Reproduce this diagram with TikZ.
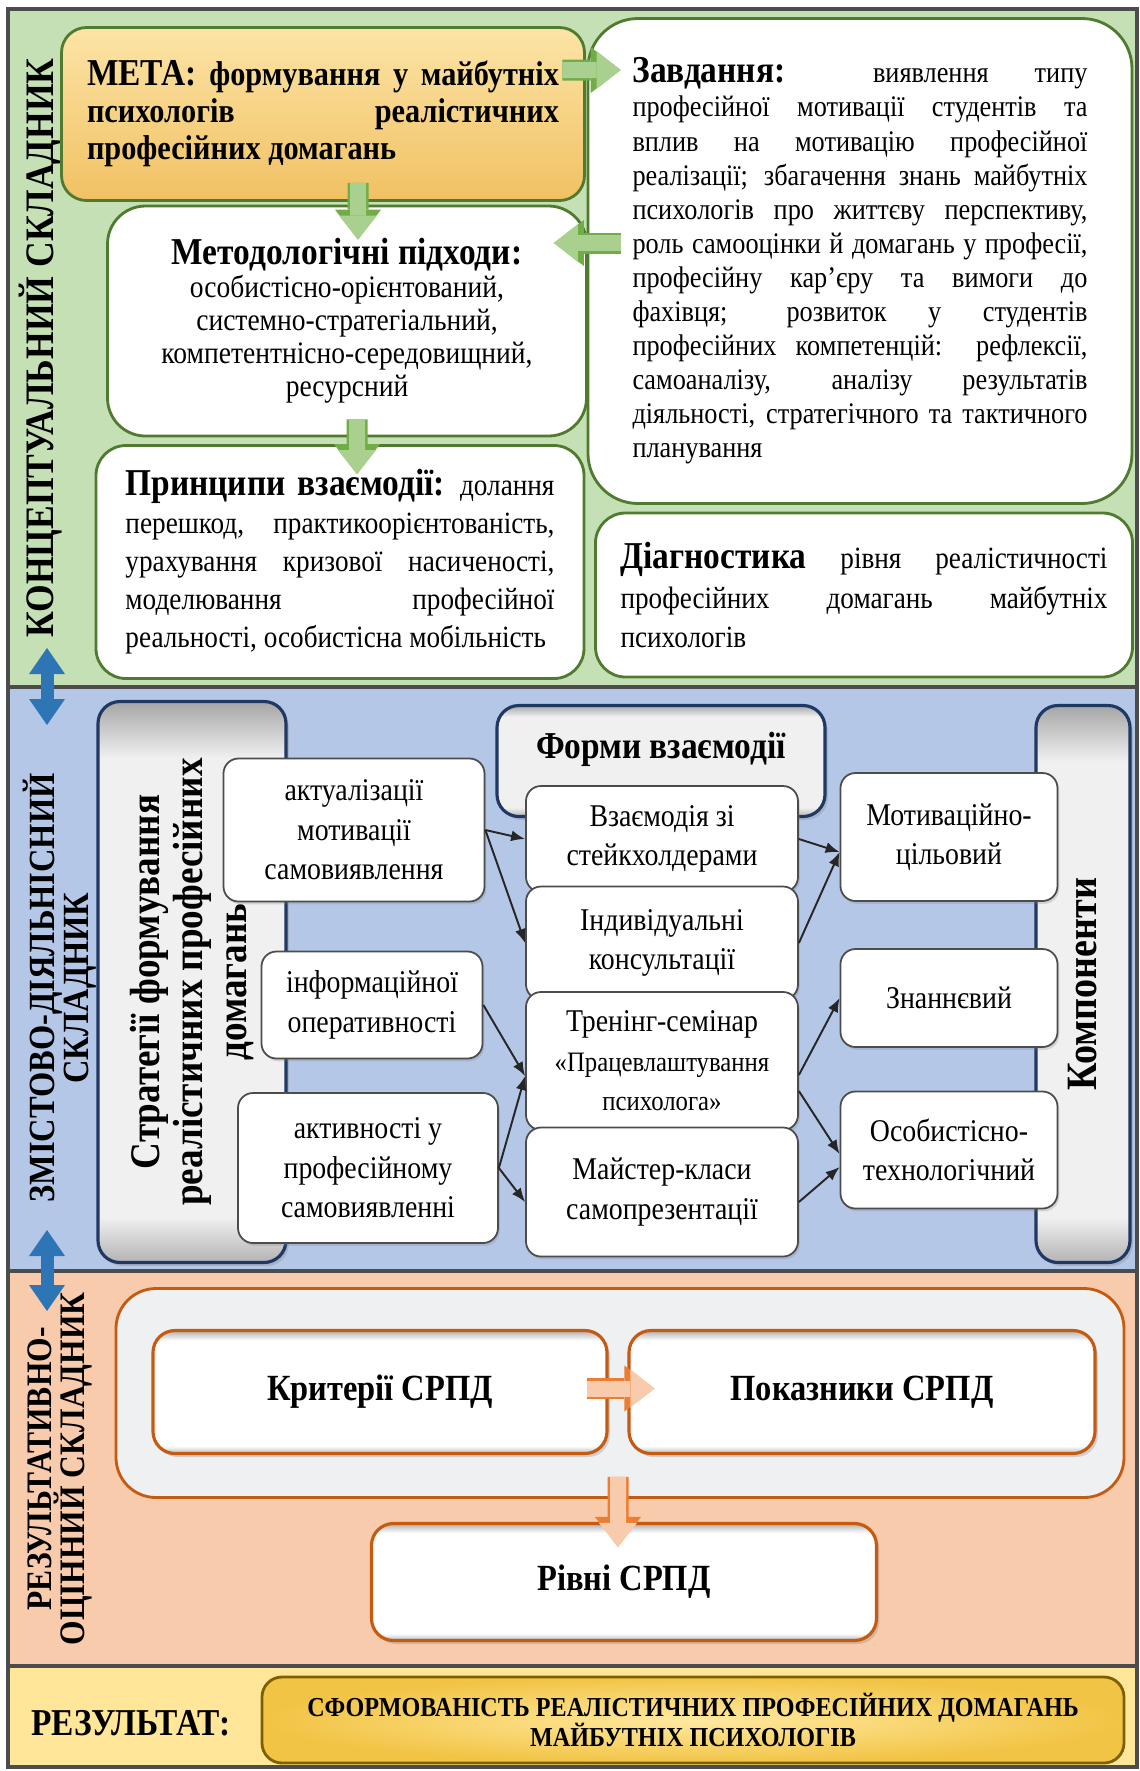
\documentclass[tikz,border=0pt]{standalone}
\usepackage{fontspec}
\setmainfont{Liberation Serif}[FakeStretch=0.88]
\usepackage{tikz}
\usetikzlibrary{arrows.meta,shadows}
\usepackage{xcolor}
\definecolor{bandgreen}{HTML}{C5E0B4}
\definecolor{bandblue}{HTML}{B4C7E7}
\definecolor{bandorange}{HTML}{F8CBAD}
\definecolor{bandyellow}{HTML}{FFE699}
\definecolor{greenline}{HTML}{4F7A30}
\definecolor{greenarrow}{HTML}{A9D08E}
\definecolor{greenarrowline}{HTML}{70AD47}
\definecolor{navyline}{HTML}{1F3864}
\definecolor{orangeline}{HTML}{C55A11}
\definecolor{orangearrow}{HTML}{F8CBAD}
\definecolor{orangearrowline}{HTML}{ED7D31}
\definecolor{bluearrow}{HTML}{2E75B6}
\definecolor{metatop}{HTML}{FCE4A6}
\definecolor{metabottom}{HTML}{F1C163}
\definecolor{resultin}{HTML}{FFE9A0}
\definecolor{resultout}{HTML}{F2C445}
\definecolor{resultline}{HTML}{7F6000}
\definecolor{contfill}{HTML}{EEF0F2}
\pgfdeclareverticalshading{whiteedge}{100bp}{color(0bp)=(black!28); color(25bp)=(black!28); color(28bp)=(white); color(71bp)=(white); color(75bp)=(black!32); color(100bp)=(black!32)}
\pgfdeclareverticalshading{greyedge}{100bp}{color(0bp)=(black!30); color(25bp)=(black!30); color(29bp)=(black!6); color(70bp)=(black!6); color(75bp)=(black!35); color(100bp)=(black!35)}
\tolerance=9999

\begin{document}
\begin{tikzpicture}[
  font=\fontsize{8.6}{9.7}\selectfont,
  gbox/.style={draw=greenline, line width=0.8pt, fill=white, rounded corners=0.3cm, inner sep=0pt},
  wbox/.style={draw=black!70, line width=0.5pt, fill=white, rounded corners=0.15cm, align=center, inner sep=2pt,
    font=\fontsize{9}{11.2}\selectfont, drop shadow={opacity=0.25, shadow xshift=0.5pt, shadow yshift=-0.8pt}},
  grbox/.style={draw=navyline, line width=0.9pt, rounded corners=0.22cm, shade, shading=greyedge,
    align=center, drop shadow={opacity=0.3, shadow xshift=0.8pt, shadow yshift=-1pt}},
  obox/.style={draw=orangeline, line width=0.9pt, rounded corners=0.22cm, shade, shading=whiteedge,
    font=\bfseries\fontsize{10.5}{12}\selectfont, drop shadow={opacity=0.3, shadow xshift=0.8pt, shadow yshift=-1pt}},
  sidelabel/.style={rotate=90, align=center, inner sep=0pt},
  link/.style={-{Latex[length=1.4mm,width=1.1mm]}, line width=0.55pt, draw=black!85},
  garrow/.style={draw=greenarrow, line width=0.16cm, -{Triangle[width=0.38cm,length=0.24cm,line width=0pt]},
    preaction={draw=greenarrowline, line width=0.21cm, -{Triangle[width=0.46cm,length=0.30cm,line width=0pt]}}},
  oarrow/.style={draw=orangearrow, line width=0.16cm, -{Triangle[width=0.38cm,length=0.24cm,line width=0pt]},
    preaction={draw=orangearrowline, line width=0.21cm, -{Triangle[width=0.46cm,length=0.30cm,line width=0pt]}}},
  barrow/.style={draw=bluearrow, line width=0.13cm,
    {Triangle[width=0.36cm,length=0.26cm,line width=0pt]}-{Triangle[width=0.36cm,length=0.26cm,line width=0pt]}}
]

\useasboundingbox (0,0) rectangle (11.40,-17.71);
\fill[white] (0,0) rectangle (11.40,-17.71);

\filldraw[fill=bandgreen, draw=black!70, line width=1pt] (0.08,-0.09) rectangle (11.37,-6.87);
\filldraw[fill=bandblue, draw=black!70, line width=1pt] (0.08,-6.87) rectangle (11.37,-12.71);
\filldraw[fill=bandorange, draw=black!70, line width=1pt] (0.08,-12.71) rectangle (11.37,-16.66);
\filldraw[fill=bandyellow, draw=black!70, line width=1pt] (0.08,-16.66) rectangle (11.37,-17.67);

\node[sidelabel, font=\bfseries\fontsize{11.5}{12}\selectfont] (conclabel) at (0.41,-3.48) {КОНЦЕПТУАЛЬНИЙ СКЛАДНИК};
\node[sidelabel, font=\bfseries\fontsize{10.5}{9.6}\selectfont] (zmistlabel) at (0.60,-9.88) {ЗМІСТОВО-ДІЯЛЬНІСНИЙ\\ СКЛАДНИК};
\node[sidelabel, font=\bfseries\fontsize{10.2}{9.3}\selectfont] (rezultlabel) at (0.60,-14.69) {РЕЗУЛЬТАТИВНО-\\ ОЦІННИЙ СКЛАДНИК};

\coordinate (gtop) at (0.47,-6.48);
\coordinate (bbot) at (0.47,-7.25);
\coordinate (btop) at (0.47,-12.30);
\coordinate (obot) at (0.47,-13.11);
\draw[barrow] (gtop) -- (bbot);
\draw[barrow] (btop) -- (obot);

\node[gbox, rounded corners=0.25cm, top color=metatop, bottom color=metabottom, minimum width=5.23cm, minimum height=1.73cm,
  text width=4.72cm, align=justify, font=\bfseries\fontsize{9.8}{10.5}\selectfont] (meta) at (3.23,-1.14)
  {{\fontsize{10.8}{10.5}\selectfont МЕТА:} формування у майбутніх\linebreak психологів реалістичних\linebreak професійних домагань};
\node[gbox, rounded corners=0.38cm, minimum width=4.79cm, minimum height=2.30cm, align=center,
  font=\fontsize{8.9}{9.4}\selectfont] (method) at (3.47,-3.21)
  {{\bfseries\fontsize{10.8}{11}\selectfont Методологічні підходи:}\\ особистісно-орієнтований,\\ системно-стратегіальний,\\ компетентнісно-середовищний,\\ ресурсний};
\node[gbox, minimum width=4.88cm, minimum height=2.33cm, text width=4.29cm, align=justify,
  font=\fontsize{8.8}{10.8}\selectfont] (princ) at (3.40,-5.62)
  {{\bfseries\fontsize{10.8}{10.8}\selectfont Принципи взаємодії:} долання\linebreak перешкод, практикоорієнтованість,\linebreak урахування кризової насиченості,\linebreak моделювання професійної\linebreak реальності, особистісна мобільність};
\node[gbox, rounded corners=0.5cm, minimum width=5.44cm, minimum height=4.85cm, text width=4.55cm, align=justify,
  font=\fontsize{8.5}{9.7}\selectfont] (zavd) at (8.60,-2.61)
  {{\bfseries\fontsize{10.8}{9.7}\selectfont Завдання:} виявлення типу\linebreak професійної мотивації студентів та\linebreak вплив на мотивацію професійної\linebreak реалізації; збагачення знань майбутніх\linebreak психологів про життєву перспективу,\linebreak роль самооцінки й домагань у професії,\linebreak професійну кар’єру та вимоги до\linebreak фахівця; розвиток у студентів\linebreak професійних компетенцій: рефлексії,\linebreak самоаналізу, аналізу результатів\linebreak діяльності, стратегічного та тактичного\linebreak планування};
\node[gbox, minimum width=5.37cm, minimum height=1.64cm, text width=4.87cm, align=justify,
  font=\fontsize{8.8}{11.3}\selectfont] (diag) at (8.64,-5.95)
  {{\bfseries\fontsize{10.8}{11.3}\selectfont Діагностика} рівня реалістичності\linebreak професійних домагань майбутніх\linebreak психологів};

\draw[garrow] ([xshift=0.35cm,yshift=0.19cm]meta.south) -- ([xshift=0.11cm,yshift=-0.35cm]method.north);
\draw[garrow] ([xshift=0.10cm,yshift=0.18cm]method.south) -- ([xshift=0.17cm,yshift=-0.30cm]princ.north);
\draw[garrow] ([xshift=-0.235cm,yshift=0.44cm]meta.east) -- ([xshift=0.34cm,yshift=1.91cm]zavd.west);
\draw[garrow] ([xshift=0.34cm,yshift=0.18cm]zavd.west) -- ([xshift=-0.34cm,yshift=0.78cm]method.east);

\node[grbox, rotate=90, minimum width=5.61cm, minimum height=1.88cm, font=\bfseries\fontsize{12}{12.4}\selectfont] (strat) at (1.92,-9.82)
  {Стратегії формування\\ реалістичних професійних\\ домагань};
\node[grbox, minimum width=3.28cm, minimum height=1.11cm, text depth=0.32cm, font=\bfseries\fontsize{10.8}{12}\selectfont] (forms) at (6.61,-7.61) {Форми взаємодії};
\node[grbox, rotate=90, minimum width=5.57cm, minimum height=0.94cm, font=\bfseries\fontsize{12.3}{13}\selectfont] (komp) at (10.83,-9.84) {Компоненти};

\node[wbox, minimum width=2.61cm, minimum height=1.43cm] (aktual) at (3.54,-8.30) {актуалізації\\ мотивації\\ самовиявлення};
\node[wbox, minimum width=2.21cm, minimum height=1.07cm] (inform) at (3.72,-10.05) {інформаційної\\ оперативності};
\node[wbox, minimum width=2.60cm, minimum height=1.50cm] (aktyvn) at (3.68,-11.68) {активності у\\ професійному\\ самовиявленні};
\node[wbox, minimum width=2.72cm, minimum height=1.06cm] (vzaiem) at (6.62,-8.39) {Взаємодія зі\\ стейкхолдерами};
\node[wbox, minimum width=2.72cm, minimum height=1.13cm] (indyv) at (6.62,-9.43) {Індивідуальні\\ консультації};
\node[wbox, minimum width=2.72cm, minimum height=1.38cm] (trening) at (6.62,-10.61)
  {Тренінг-семінар\\ {\fontsize{8}{11}\selectfont «Працевлаштування}\\ {\fontsize{8}{11}\selectfont психолога»}};
\node[wbox, minimum width=2.72cm, minimum height=1.29cm] (maister) at (6.62,-11.92) {Майстер-класи\\ самопрезентації};
\node[wbox, minimum width=2.17cm, minimum height=1.28cm] (motyv) at (9.49,-8.37) {Мотиваційно-\\ цільовий};
\node[wbox, minimum width=2.17cm, minimum height=0.98cm] (znan) at (9.49,-9.98) {Знаннєвий};
\node[wbox, minimum width=2.17cm, minimum height=1.17cm] (osob) at (9.49,-11.50) {Особистісно-\\ технологічний};

\draw[link] (aktual.east) -- (vzaiem.west);
\draw[link] (aktual.east) -- (indyv.west);
\draw[link] (inform.east) -- ([yshift=-0.15cm]trening.west);
\draw[link] (aktyvn.east) -- ([yshift=-0.15cm]trening.west);
\draw[link] (aktyvn.east) -- ([yshift=-0.1cm]maister.west);
\draw[link] (vzaiem.east) -- ([yshift=-0.15cm]motyv.west);
\draw[link] (indyv.east) -- ([yshift=-0.15cm]motyv.west);
\draw[link] ([yshift=-0.14cm]trening.east) -- (znan.west);
\draw[link] ([yshift=-0.3cm]trening.east) -- ([yshift=-0.04cm]osob.west);
\draw[link] ([yshift=-0.1cm]maister.east) -- ([yshift=-0.17cm]osob.west);

\node[draw=orangeline, line width=0.8pt, fill=contfill, rounded corners=0.4cm, minimum width=10.08cm, minimum height=2.09cm] (cont) at (6.20,-13.93) {};
\node[obox, minimum width=4.54cm, minimum height=1.23cm] (kryt) at (3.80,-13.92) {Критерії СРПД};
\node[obox, minimum width=4.66cm, minimum height=1.23cm] (pokaz) at (8.62,-13.92) {Показники СРПД};
\node[obox, minimum width=5.05cm, minimum height=1.17cm] (rivni) at (6.24,-15.82) {Рівні СРПД};

\draw[oarrow] ([xshift=-0.22cm,yshift=0.035cm]kryt.east) -- ([xshift=0.27cm,yshift=0.035cm]pokaz.west);
\draw[oarrow] ([xshift=-0.02cm,yshift=0.22cm]cont.south) -- ([xshift=-0.06cm,yshift=-0.25cm]rivni.north);

\node[font=\bfseries\fontsize{10.8}{12}\selectfont] (rezlabel) at (1.31,-17.23) {РЕЗУЛЬТАТ:};
\node[draw=resultline, line width=0.8pt, rounded corners=0.2cm, inner color=resultin, outer color=resultout,
  minimum width=8.62cm, minimum height=0.86cm, align=center, font=\bfseries\fontsize{7.8}{8.4}\selectfont] (result) at (6.93,-17.20)
  {СФОРМОВАНІСТЬ РЕАЛІСТИЧНИХ ПРОФЕСІЙНИХ ДОМАГАНЬ\\ МАЙБУТНІХ ПСИХОЛОГІВ};

\end{tikzpicture}
\end{document}
